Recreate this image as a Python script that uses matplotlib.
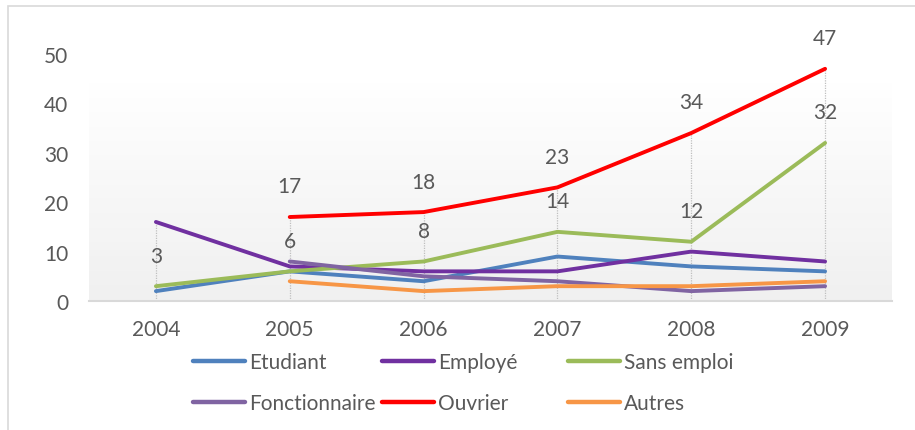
import matplotlib.pyplot as plt
import numpy as np
from matplotlib.patches import Rectangle

years = ["2004", "2005", "2006", "2007", "2008", "2009"]
etudiant = [2, 6, 4, 9, 7, 6]
employe = [16, 7, 6, 6, 10, 8]
sans_emploi = [3, 6, 8, 14, 12, 32]
fonctionnaire = [np.nan, 8, 5, 4, 2, 3]
ouvrier = [np.nan, 17, 18, 23, 34, 47]
autres = [np.nan, 4, 2, 3, 3, 4]

series = [
    ("Etudiant", etudiant, "#4F81BD"),
    ("Employé", employe, "#7030A0"),
    ("Sans emploi", sans_emploi, "#9BBB59"),
    ("Fonctionnaire", fonctionnaire, "#8064A2"),
    ("Ouvrier", ouvrier, "#FF0000"),
    ("Autres", autres, "#F79646"),
]
labelled = ["Sans emploi", "Ouvrier"]

plt.rcParams["font.family"] = ["Lato", "DejaVu Sans"]
txt = "#595959"
fs = 15

W, H = 915, 431
fig = plt.figure(figsize=(W / 100, H / 100), dpi=100)

# outer frame (runs past right/bottom edge like the reference crop)
fig.patches.append(Rectangle((8 / W, -0.1), 1.2, (H - 7) / H + 0.1, transform=fig.transFigure,
                             fill=False, edgecolor="#d9d9d9", linewidth=1.2))

x0, x1 = 89, 892
y0, ytop = 302, 30
ax = fig.add_axes([x0 / W, (H - y0) / H, (x1 - x0) / W, (y0 - ytop) / H])
ymax = (y0 - ytop) / ((302 - 55) / 50)
ax.set_xlim(-0.5, 5.5)
ax.set_ylim(0, ymax)
ax.patch.set_alpha(0)

# soft gradient behind the plot
grad = np.linspace(0, 1, 100).reshape(-1, 1)
cmap = plt.matplotlib.colors.LinearSegmentedColormap.from_list("g", ["#f0f0f0", "#ffffff"])
ax.imshow(grad, extent=(-0.5, 5.5, 0, 44.3), aspect="auto", cmap=cmap, origin="lower", zorder=0)

x = np.arange(len(years))
# drop lines
tops = np.nanmax(np.array([s[1] for s in series], dtype=float), axis=0)
ax.vlines(x, 0, tops, colors="#bfbfbf", linestyles=(0, (1, 1)), linewidth=0.9, zorder=1)

for name, vals, col in series:
    ax.plot(x, vals, color=col, linewidth=2.8, solid_capstyle="round", label=name, zorder=3)
    if name in labelled:
        for xi, v in zip(x, vals):
            if not np.isnan(v):
                ax.annotate(f"{v:g}", (xi, v), xytext=(0, 22), textcoords="offset points",
                            ha="center", va="center", fontsize=fs, color=txt)

for sp in ["top", "right", "left"]:
    ax.spines[sp].set_visible(False)
ax.spines["bottom"].set_color("#d9d9d9")
ax.spines["bottom"].set_linewidth(1.5)

ax.set_xticks(x)
ax.set_xticklabels(years)
ax.set_yticks([0, 10, 20, 30, 40, 50])
ax.tick_params(axis="x", length=0, pad=13, labelsize=fs, labelcolor=txt)
ax.tick_params(axis="y", length=0, pad=15, labelsize=fs, labelcolor=txt)

# legend: three columns of two rows, placed like the reference
handles = ax.get_lines()
cols = [(0, 3), (1, 4), (2, 5)]
lx = [193, 382, 568]
for (a, b), px in zip(cols, lx):
    leg = fig.legend([handles[a], handles[b]], [handles[a].get_label(), handles[b].get_label()],
                     loc="upper left", bbox_to_anchor=(px / W, (H - 353) / H),
                     frameon=False, fontsize=fs, handlelength=2.5, handletextpad=0.2,
                     labelspacing=1.0, borderpad=0, borderaxespad=0)
    for t in leg.get_texts():
        t.set_color(txt)
    for l in leg.get_lines():
        l.set_linewidth(3.2)

fig.savefig("out.png", dpi=100)
